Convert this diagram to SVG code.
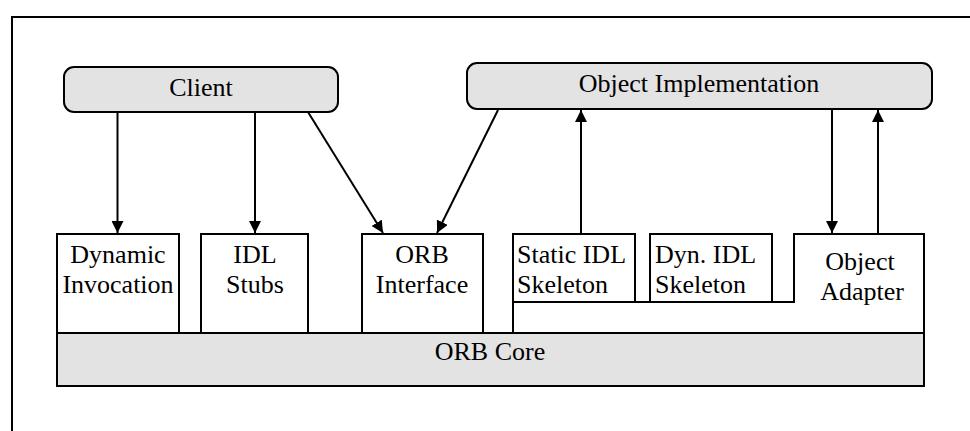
<svg xmlns="http://www.w3.org/2000/svg" width="970" height="431" viewBox="0 0 970 431">
  <defs>
    <marker id="arrow" viewBox="0 0 12 12" refX="12" refY="6" markerWidth="12" markerHeight="12" markerUnits="userSpaceOnUse" orient="auto">
      <path d="M0,0 L12,6 L0,12 Z" fill="#000"/>
    </marker>
    <style>
      .frame { fill: none; stroke: #000; stroke-width: 2; }
      .box { fill: #fff; stroke: #000; stroke-width: 2; }
      .grey { fill: #e3e3e3; stroke: #000; stroke-width: 2; }
      .edge { fill: none; stroke: #000; stroke-width: 2; }
      .arr { marker-end: url(#arrow); }
      text { font-family: "Liberation Serif", "Times New Roman", serif; font-size: 26px; fill: #000; }
      .c { text-anchor: middle; }
    </style>
  </defs>

  <rect width="970" height="431" fill="#fff"/>
  <!-- outer frame: top and left edges -->
  <path class="frame" d="M12,431 V17 H970"/>

  <g id="client">
    <rect class="grey" x="64" y="67" width="274" height="45" rx="10"/>
    <text class="c" x="201" y="96">Client</text>
  </g>

  <g id="object-implementation">
    <rect class="grey" x="467" y="63" width="465" height="46" rx="10"/>
    <text class="c" x="699" y="92">Object Implementation</text>
  </g>

  <g id="orb-core">
    <rect class="grey" x="57" y="333" width="867" height="53"/>
    <text class="c" x="490" y="360">ORB Core</text>
  </g>

  <g id="dynamic-invocation">
    <rect class="box" x="57" y="234" width="122" height="99"/>
    <text class="c" x="118" y="263">Dynamic</text>
    <text class="c" x="118" y="293">Invocation</text>
  </g>

  <g id="idl-stubs">
    <rect class="box" x="201" y="234" width="107" height="99"/>
    <text class="c" x="255" y="263">IDL</text>
    <text class="c" x="255" y="293">Stubs</text>
  </g>

  <g id="orb-interface">
    <rect class="box" x="362" y="234" width="121" height="99"/>
    <text class="c" x="422" y="263">ORB</text>
    <text class="c" x="422" y="293">Interface</text>
  </g>

  <!-- common base under the skeletons and the adapter -->
  <g id="skeleton-base">
    <path class="box" d="M513,302 V333 H924 V234 H794 V302 Z"/>
  </g>

  <g id="static-idl-skeleton">
    <rect class="box" x="513" y="234" width="122" height="68"/>
    <text x="517" y="263">Static IDL</text>
    <text x="517" y="293">Skeleton</text>
  </g>

  <g id="dyn-idl-skeleton">
    <rect class="box" x="650" y="234" width="122" height="68"/>
    <text x="655" y="263">Dyn. IDL</text>
    <text x="655" y="293">Skeleton</text>
  </g>

  <g id="object-adapter">
    <path class="edge" d="M794,302 V234 H924 V333"/>
    <text class="c" x="860" y="270">Object</text>
    <text class="c" x="862" y="300">Adapter</text>
  </g>

  <g id="connectors">
    <line class="edge arr" x1="117.5" y1="112" x2="117.5" y2="233"/>
    <line class="edge arr" x1="255" y1="112" x2="255" y2="233"/>
    <line class="edge arr" x1="308" y1="112" x2="383" y2="233"/>
    <line class="edge arr" x1="498" y1="110" x2="437" y2="233"/>
    <line class="edge arr" x1="581" y1="234" x2="581" y2="110"/>
    <line class="edge arr" x1="832" y1="110" x2="832" y2="233"/>
    <line class="edge arr" x1="878" y1="234" x2="878" y2="110"/>
  </g>
</svg>
